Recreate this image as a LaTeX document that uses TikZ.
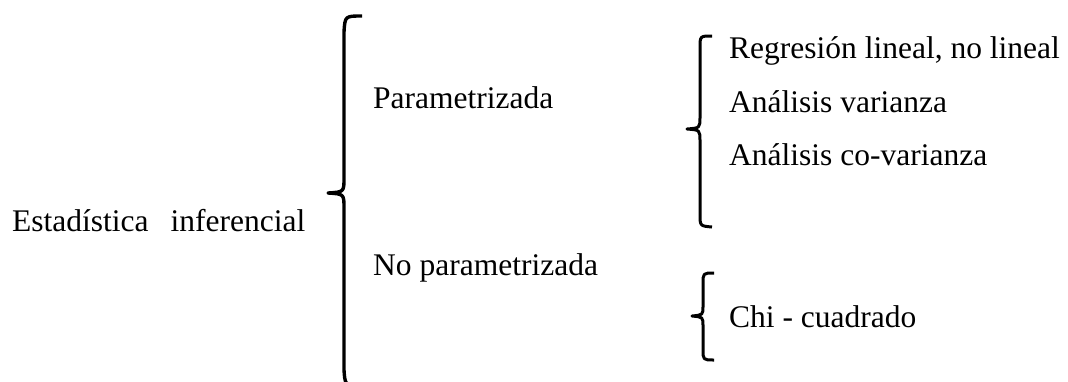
\documentclass[tikz,border=0pt]{standalone}
\usepackage{fontspec}
\setmainfont{Liberation Serif}
\begin{document}
\begin{tikzpicture}[x=1pt,y=-1pt,
  label/.style={anchor=base west,inner sep=0pt,font=\fontsize{31.5}{36}\selectfont},
  brace/.style={line width=3.4pt,line cap=butt,line join=round}]
\useasboundingbox (0,0) rectangle (1068,381);

% text nodes
\node[label] (root) at (12,231) {Estadística\hspace{0.7em}inferencial};
\node[label] (par)  at (373,108) {Parametrizada};
\node[label] (npar) at (373,275) {No parametrizada};
\node[label] (reg)  at (729,58)  {Regresión lineal, no lineal};
\node[label] (var)  at (729,112) {Análisis varianza};
\node[label] (cov)  at (729,165) {Análisis co-varianza};
\node[label] (chi)  at (729,327) {Chi - cuadrado};

% big brace
\draw[brace] (362,16) .. controls (345,16) .. (344,32) -- (344,178)
  .. controls (344,192) .. (328,193) .. controls (344,194) .. (344,208)
  -- (344,370) .. controls (345,384) .. (356,388);

% brace for the parametric methods
\draw[brace,line width=3pt] (712,36) .. controls (700,36) .. (700,48) -- (700,117)
  .. controls (700,128) .. (687,129) .. controls (700,130) .. (700,141)
  -- (700,214) .. controls (700,226) .. (712,227);

% brace for the non-parametric method
\draw[brace,line width=3pt] (714,273) .. controls (703,273) .. (703,284) -- (703,306)
  .. controls (703,315) .. (692,316) .. controls (703,317) .. (703,326)
  -- (703,349) .. controls (703,360) .. (714,360);
\end{tikzpicture}
\end{document}
